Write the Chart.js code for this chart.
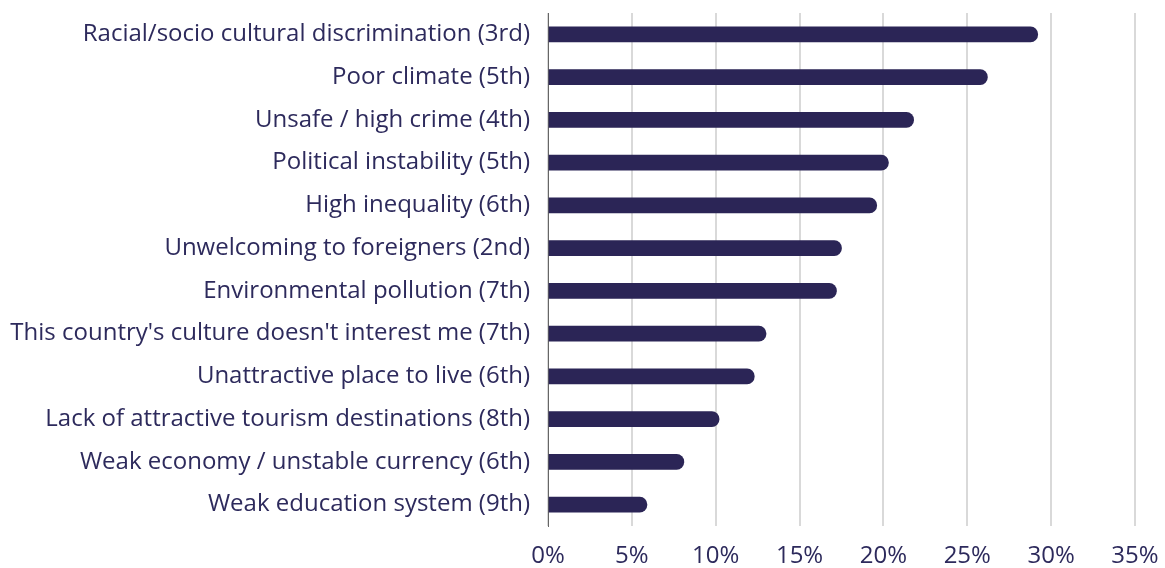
<!DOCTYPE html>
<html>
<head>
<meta charset="utf-8">
<script src="https://cdn.jsdelivr.net/npm/chart.js@4"></script>
<style>
  html, body { margin: 0; padding: 0; background: #fff; }
  #wrap { width: 1165px; height: 568px; position: relative; }
</style>
</head>
<body>
<div id="wrap"><canvas id="chart-reasons"></canvas></div>
<script>
const categories = [
  'Racial/socio cultural discrimination (3rd)',
  'Poor climate (5th)',
  'Unsafe / high crime (4th)',
  'Political instability (5th)',
  'High inequality (6th)',
  'Unwelcoming to foreigners (2nd)',
  'Environmental pollution (7th)',
  "This country's culture doesn't interest me (7th)",
  'Unattractive place to live (6th)',
  'Lack of attractive tourism destinations (8th)',
  'Weak economy / unstable currency (6th)',
  'Weak education system (9th)',
];
const shares = [29.2, 26.2, 21.8, 20.3, 19.6, 17.5, 17.2, 13.0, 12.3, 10.2, 8.1, 5.9];
const xTicks = [0, 5, 10, 15, 20, 25, 30, 35];

const NAVY = '#2b2556';
const TEXT = '#2d2a5c';
const FONT = { family: '"Open Sans", sans-serif', size: 24 };

new Chart(document.getElementById('chart-reasons'), {
  type: 'bar',
  data: {
    labels: categories,
    datasets: [{
      data: shares,
      backgroundColor: NAVY,
      barThickness: 15,
      borderRadius: 8,
      borderSkipped: 'start',
    }],
  },
  options: {
    indexAxis: 'y',
    responsive: true,
    maintainAspectRatio: false,
    animation: false,
    layout: { padding: { top: 13, right: 30, left: 0, bottom: 0 } },
    plugins: { legend: { display: false }, tooltip: { enabled: false } },
    scales: {
      x: {
        min: 0, max: 35,
        afterBuildTicks: s => { s.ticks = xTicks.map(v => ({ value: v })); },
        ticks: { color: TEXT, font: FONT, padding: 16, callback: v => v + '%' },
        grid: { color: '#d9d9d9', lineWidth: 2, drawTicks: false },
        border: { display: false },
        afterFit: s => {
          s.height = 42;
          s.paddingLeft = 0;
          s.paddingRight = 0;
        },
      },
      y: {
        ticks: { color: TEXT, font: FONT, padding: 18, autoSkip: false },
        grid: { display: false, drawTicks: false },
        border: { display: true, color: '#666', width: 1 },
        afterFit: s => {
          s.width = 548;
          s.paddingTop = 0;
          s.paddingBottom = 0;
        },
      },
    },
  },
});
</script>
</body>
</html>
